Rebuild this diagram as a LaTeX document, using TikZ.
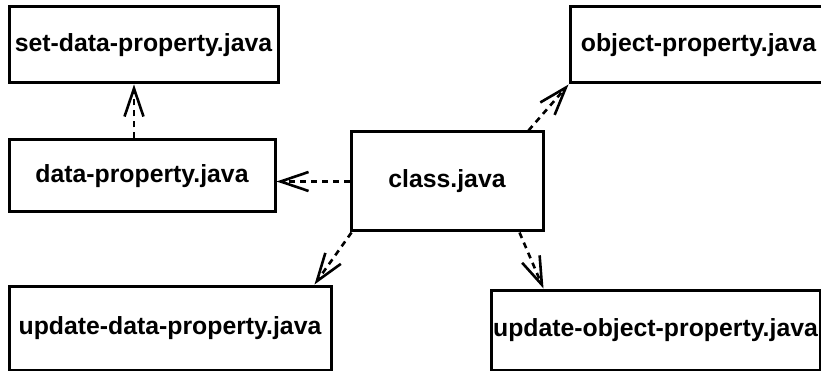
\documentclass[tikz,border=0pt]{standalone}
\usepackage{fontspec}
\setmainfont{Liberation Sans}
\usetikzlibrary{arrows.meta}
\begin{document}
\begin{tikzpicture}[x=1pt,y=-1pt,
  box/.style={draw, line width=3pt, inner sep=0pt, font=\fontsize{24.8}{28}\selectfont\bfseries},
  dep/.style={line width=2.6pt, dash pattern=on 6pt off 5pt, -{Straight Barb[length=28pt,width=19pt,line width=2.6pt]}}]
\useasboundingbox (0,0) rectangle (821,371);
\clip (0,0) rectangle (821,371);
\node[box, minimum width=269pt, minimum height=76pt] (A) at (143.5,45) {set-data-property.java};
\node[box, minimum width=266pt, minimum height=72pt] (B) at (142,176) {data-property.java};
\node[box, minimum width=192pt, minimum height=99pt] (C) at (447,181.5) {class.java};
\node[box, minimum width=257pt, minimum height=76pt] (D) at (698.5,45) {object-property.java};
\node[box, minimum width=322pt, minimum height=84pt] (E) at (170,328) {update-data-property.java};
\node[box, minimum width=329pt, minimum height=80pt] (F) at (655.5,330) {update-object-property.java};
\draw[dep] ([xshift=-8pt]B.north) -- ([xshift=-8pt]B.north |- A.south);
\draw[dep] (C.west) -- (B.east |- C.west);
\draw[dep] ([xshift=-16pt]C.north east) -- (D.south west);
\draw[dep] ([xshift=2pt]C.south west) -- ([xshift=-18pt]E.north east);
\draw[dep] ([xshift=-25pt]C.south east) -- ([xshift=54pt]F.north west);
\end{tikzpicture}
\end{document}
